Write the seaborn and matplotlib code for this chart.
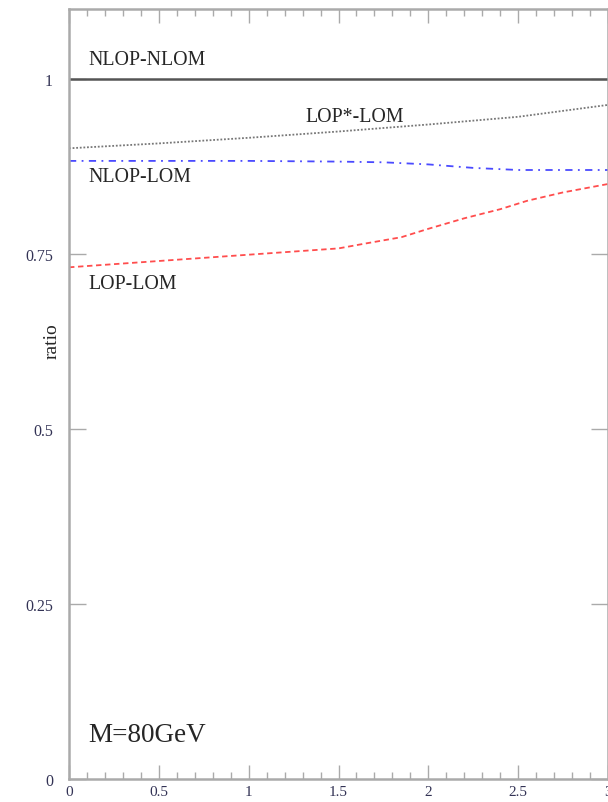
import matplotlib
matplotlib.use("Agg")
import matplotlib.pyplot as plt
import seaborn as sns
import numpy as np
from matplotlib.ticker import MultipleLocator

# ---- data ----
x_nlop_nlom = [0.0, 3.0]
y_nlop_nlom = [1.0, 1.0]

x_lopstar = [0.0, 0.5, 1.0, 1.5, 2.0, 2.5, 3.0]
y_lopstar = [0.901, 0.908, 0.916, 0.925, 0.935, 0.946, 0.963]

x_nlop_lom = [0.0, 0.5, 1.0, 1.5, 1.75, 2.0, 2.25, 2.5, 2.75, 3.0]
y_nlop_lom = [0.883, 0.883, 0.883, 0.882, 0.881, 0.878, 0.873, 0.870, 0.870, 0.870]

x_lop_lom = [0.0, 0.5, 1.0, 1.5, 1.65, 1.85, 2.0, 2.2, 2.4, 2.55, 2.75, 3.0]
y_lop_lom = [0.731, 0.740, 0.749, 0.758, 0.765, 0.774, 0.786, 0.801, 0.814, 0.826, 0.838, 0.850]

x_ticks = [0, 0.5, 1, 1.5, 2, 2.5, 3]
x_ticklabels = ["0", "0.5", "1", "1.5", "2", "2.5", "3"]
y_ticks = [0, 0.25, 0.5, 0.75, 1]
y_ticklabels = ["0", "0.25", "0.5", "0.75", "1"]

sns.set_style("ticks")
plt.rcParams["font.family"] = ["Liberation Serif", "DejaVu Serif"]

fig = plt.figure(figsize=(6.08, 8.03), dpi=100)
ax = fig.add_axes([69/608, 23/803, 539/608, 770/803])

sns.lineplot(x=x_nlop_nlom, y=y_nlop_nlom, ax=ax, color="#555555", linewidth=1.8, linestyle="-")
sns.lineplot(x=x_lopstar, y=y_lopstar, ax=ax, color="#777777", linewidth=1.3, linestyle=(0, (1, 1)))
sns.lineplot(x=x_nlop_lom, y=y_nlop_lom, ax=ax, color="#4a4aff", linewidth=1.3, linestyle=(0, (4, 3, 1, 3)))
sns.lineplot(x=x_lop_lom, y=y_lop_lom, ax=ax, color="#ff4d4d", linewidth=1.3, linestyle=(0, (3, 2)))

ax.set_xlim(0, 3)
ax.set_ylim(0, 1.1)
ax.set_xticks(x_ticks)
ax.set_xticklabels(x_ticklabels)
ax.set_yticks(y_ticks)
ax.set_yticklabels(y_ticklabels)
ax.xaxis.set_minor_locator(MultipleLocator(0.1))

ax.tick_params(axis="both", which="both", direction="in", colors="#aaaaaa",
               labelcolor="#333355", labelsize=11.5)
ax.tick_params(axis="x", which="major", length=10, top=True, width=1, labelsize=11)
ax.tick_params(axis="x", which="minor", length=5, top=True, width=1)
ax.tick_params(axis="y", which="major", length=12, right=True, width=1)
ax.tick_params(axis="x", pad=4)
ax.tick_params(axis="y", pad=11.5)

for s in ax.spines.values():
    s.set_visible(True)
    s.set_color("#aaaaaa")
    s.set_linewidth(1.8)

ax.set_ylabel("ratio", fontsize=14)
ax.yaxis.label.set_verticalalignment("center")
ax.yaxis.set_label_coords(-0.0315, 0.570)
ax.set_xlabel("")

fs = 14.3
ax.text(0.106, 1.0285, "NLOP-NLOM", fontsize=fs, va="center", ha="left")
ax.text(1.317, 0.947, "LOP*-LOM", fontsize=fs, va="center", ha="left")
ax.text(0.106, 0.860, "NLOP-LOM", fontsize=fs, va="center", ha="left")
ax.text(0.106, 0.708, "LOP-LOM", fontsize=fs, va="center", ha="left")
ax.text(0.106, 0.063, "M=80GeV", fontsize=19.5, va="center", ha="left")

fig.savefig("out.png", dpi=100)
